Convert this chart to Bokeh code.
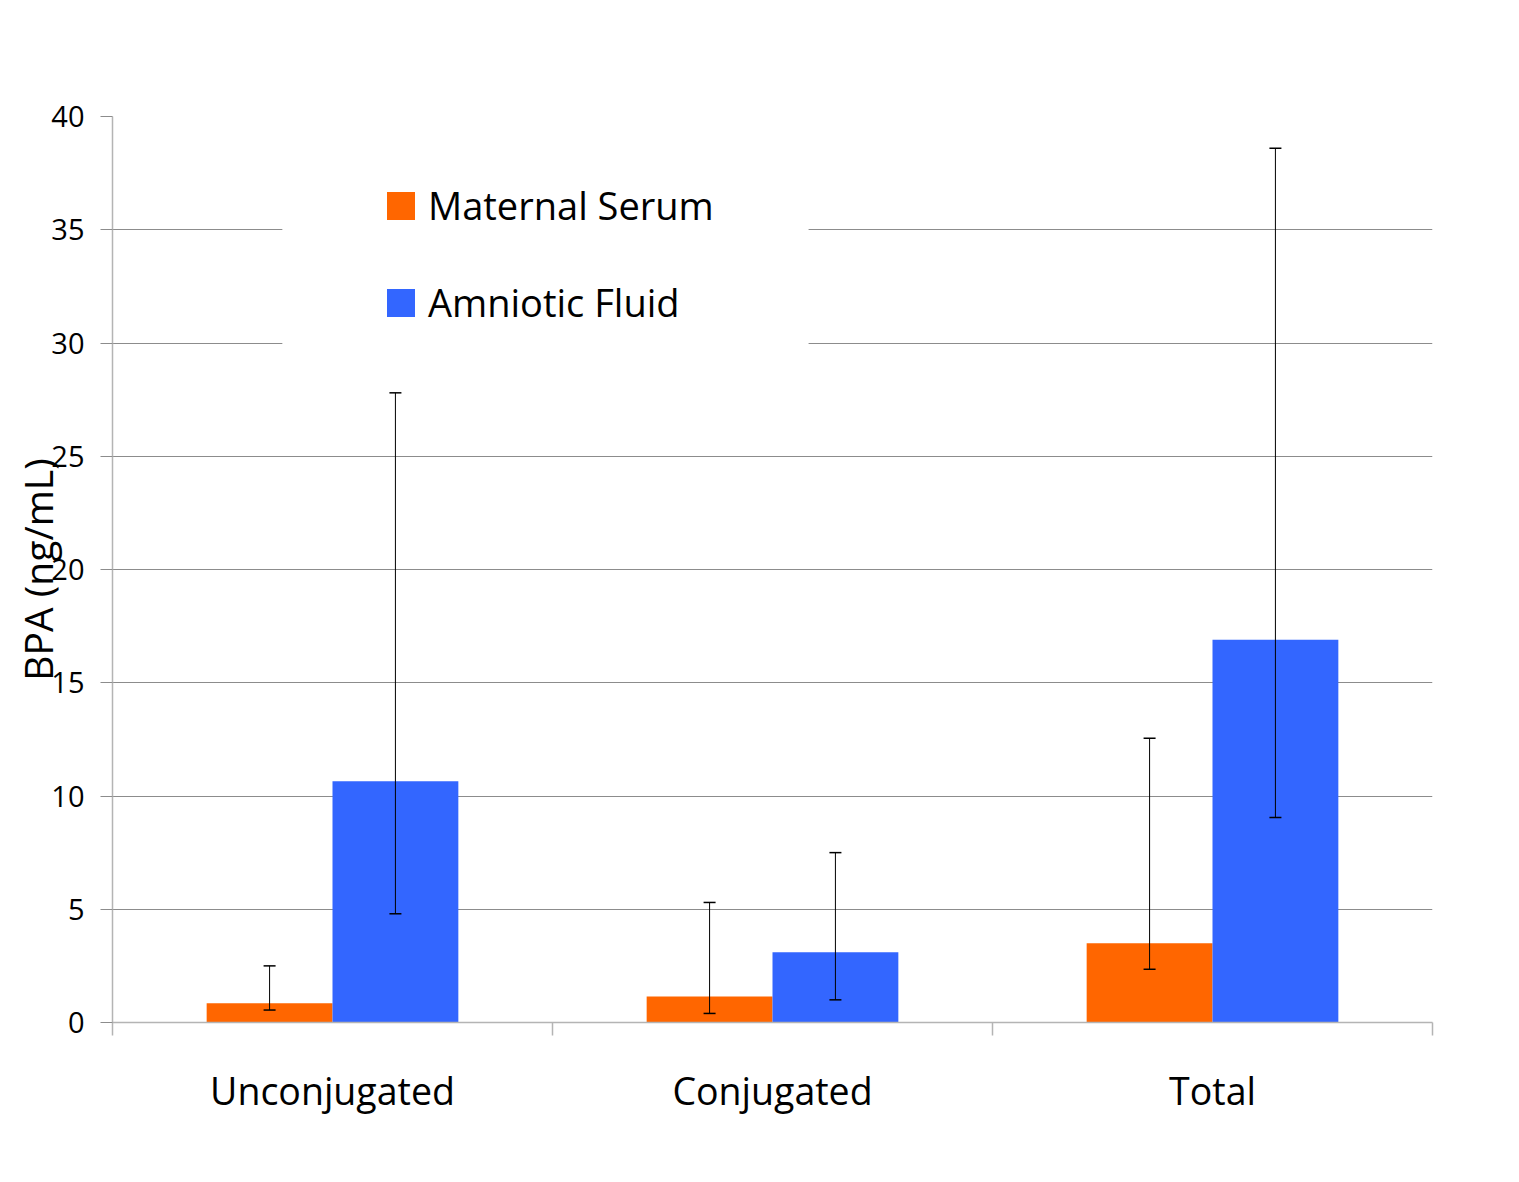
import math
from bokeh.plotting import figure
from bokeh.models import (Range1d, FixedTicker, Whisker, TeeHead, ColumnDataSource,
                          Legend, LegendItem, BoxAnnotation)
from bokeh.embed import file_html
from bokeh.resources import INLINE

categories = ["Unconjugated", "Conjugated", "Total"]
serum_mean = [0.85, 1.15, 3.5]
serum_low = [0.55, 0.4, 2.35]
serum_high = [2.5, 5.3, 12.55]
fluid_mean = [10.65, 3.1, 16.9]
fluid_low = [4.8, 1.0, 9.05]
fluid_high = [27.8, 7.5, 38.6]
y_ticks = [0, 5, 10, 15, 20, 25, 30, 35, 40]

FONT = "Open Sans"
ORANGE = "#FF6600"
BLUE = "#3366FF"
bar_w = 0.286

centers = [i + 0.5 for i in range(len(categories))]
xs_serum = [c - bar_w / 2 for c in centers]
xs_fluid = [c + bar_w / 2 for c in centers]

src_s = ColumnDataSource(dict(x=xs_serum, top=serum_mean, lo=serum_low, hi=serum_high))
src_f = ColumnDataSource(dict(x=xs_fluid, top=fluid_mean, lo=fluid_low, hi=fluid_high))

p = figure(frame_width=1320, frame_height=906, output_backend="svg", toolbar_location=None,
           x_range=Range1d(0, len(categories)), y_range=Range1d(0, 40),
           min_border_left=112, min_border_top=116, min_border_right=60, min_border_bottom=132)
p.outline_line_color = None
p.background_fill_color = "white"
p.border_fill_color = "white"

# grid
p.xgrid.grid_line_color = None
p.ygrid.grid_line_color = "#8c8c8c"
p.ygrid.grid_line_width = 1

# y axis
p.yaxis.ticker = FixedTicker(ticks=y_ticks)
p.yaxis.axis_line_color = "#b4b4b4"
p.yaxis.axis_line_width = 1.5
p.yaxis.major_tick_line_color = "#8c8c8c"
p.yaxis.major_tick_out = 12
p.yaxis.major_tick_in = 0
p.yaxis.minor_tick_line_color = None
p.yaxis.major_label_text_font = FONT
p.yaxis.major_label_text_font_size = "29px"
p.yaxis.major_label_text_color = "black"
p.yaxis.major_label_standoff = 16
p.yaxis.axis_label = "BPA (ng/mL)"
p.yaxis.axis_label_text_font = FONT
p.yaxis.axis_label_text_font_size = "39px"
p.yaxis.axis_label_text_font_style = "normal"
p.yaxis.axis_label_text_color = "black"
p.yaxis.axis_label_standoff = -16

# x axis
p.xaxis.ticker = FixedTicker(ticks=centers, minor_ticks=list(range(len(categories) + 1)))
p.xaxis.major_label_overrides = {c: name for c, name in zip(centers, categories)}
p.xaxis.axis_line_color = "#b4b4b4"
p.xaxis.axis_line_width = 1.5
p.xaxis.major_tick_line_color = None
p.xaxis.major_tick_out = 0
p.xaxis.major_tick_in = 0
p.xaxis.minor_tick_line_color = "#b4b4b4"
p.xaxis.minor_tick_line_width = 1.5
p.xaxis.minor_tick_out = 13
p.xaxis.minor_tick_in = 0
p.xaxis.major_label_text_font = FONT
p.xaxis.major_label_text_font_size = "37.5px"
p.xaxis.major_label_text_color = "black"
p.xaxis.major_label_standoff = 29

# bars
r_s = p.vbar(x="x", top="top", width=bar_w, source=src_s, fill_color=ORANGE, line_color=None)
r_f = p.vbar(x="x", top="top", width=bar_w, source=src_f, fill_color=BLUE, line_color=None)

# error bars (drawn over the bars)
for src in (src_s, src_f):
    w = Whisker(base="x", lower="lo", upper="hi", source=src, dimension="height",
                line_color="black", line_width=1, level="overlay",
                upper_head=TeeHead(size=12, line_color="black", line_width=1.5),
                lower_head=TeeHead(size=12, line_color="black", line_width=1.5))
    p.add_layout(w)

# white box behind legend (hides gridlines)
box = BoxAnnotation(left=0.386, right=1.582, bottom=28.5, top=38.0,
                    fill_color="white", fill_alpha=1.0, line_color=None, level="annotation")
p.add_layout(box)

legend = Legend(items=[LegendItem(label="Maternal Serum", renderers=[r_s]),
                       LegendItem(label="Amniotic Fluid", renderers=[r_f])],
                location=(271, 694), orientation="vertical",
                background_fill_alpha=0, border_line_color=None, padding=0, margin=0,
                glyph_width=35, glyph_height=35, label_standoff=10, spacing=45,
                label_text_font=FONT, label_text_font_size="38px", label_text_color="black")
p.add_layout(legend)

open("out.html", "w").write(file_html(p, INLINE))
